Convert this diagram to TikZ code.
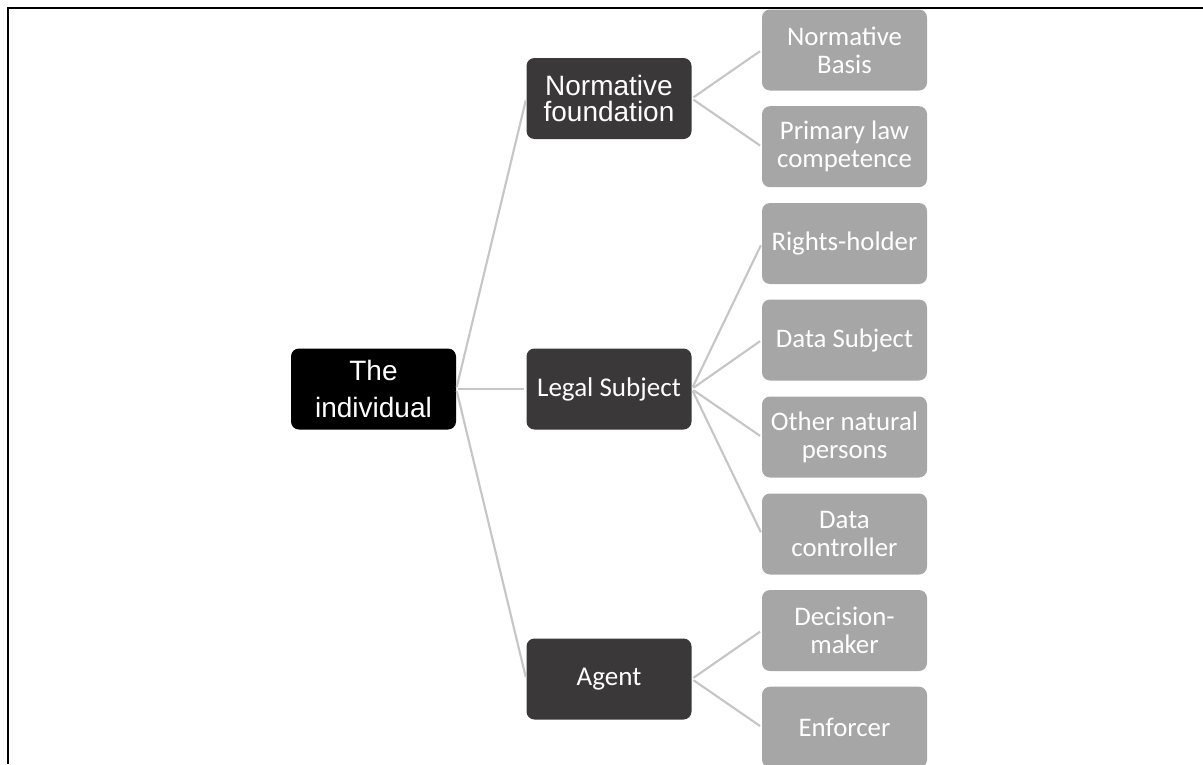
\documentclass[tikz,border=0pt]{standalone}
\usepackage{fontspec}
\setmainfont{Carlito}
\newfontfamily\arialfont{Liberation Sans}

\definecolor{midgrey}{HTML}{3A3838}
\definecolor{leafgrey}{HTML}{A6A6A6}
\definecolor{linkgrey}{HTML}{C6C6C6}

\tikzset{
    box/.style={rounded corners=6pt, minimum width=123.75pt, minimum height=60.75pt,
        inner sep=2pt, align=center, text=white},
    rootbox/.style={box, fill=black, font=\arialfont\fontsize{21}{27.5}\selectfont},
    midbox/.style={box, fill=midgrey, font=\fontsize{20.3}{21}\selectfont},
    leafbox/.style={box, fill=leafgrey, font=\fontsize{20.1}{21}\selectfont},
    link/.style={draw=linkgrey, line width=1.6pt, shorten <=1.5pt, shorten >=1.5pt}
}

\begin{document}
\begin{tikzpicture}[x=0.75pt, y=-0.75pt]
        \clip (0, 0) rectangle (1203, 764);
        \draw[line width=1.7pt] (7.7, 764) -- (7.7, 7.7) -- (1203, 7.7);
        % root and middle level
        \node[rootbox] (indiv) at (373.5, 389) {The\\individual};
        \node[midbox, font=\arialfont\fontsize{21}{20}\selectfont] (found) at (609, 98.5) {Normative\\foundation};
        \node[midbox] (legal) at (609, 389) {Legal Subject};
        \node[midbox] (agent) at (609, 679) {Agent};
        % leaves
        \node[leafbox] (basis) at (844.5, 50) {Normative\\Basis};
        \node[leafbox] (primary) at (844.5, 146.7) {Primary law\\competence};
        \node[leafbox] (rights) at (844.5, 243.5) {Rights-holder};
        \node[leafbox] (dsubj) at (844.5, 340) {Data Subject};
        \node[leafbox] (others) at (844.5, 437) {Other natural\\persons};
        \node[leafbox] (dctrl) at (844.5, 534) {Data\\controller};
        \node[leafbox] (decide) at (844.5, 630.5) {Decision-\\maker};
        \node[leafbox] (enforce) at (844.5, 727.2) {Enforcer};
        % connectors
        \draw[link] (indiv.east) -- (found.west);
        \draw[link] (indiv.east) -- (legal.west);
        \draw[link] (indiv.east) -- (agent.west);
        \draw[link] (found.east) -- (basis.west);
        \draw[link] (found.east) -- (primary.west);
        \draw[link] (legal.east) -- (rights.west);
        \draw[link] (legal.east) -- (dsubj.west);
        \draw[link] (legal.east) -- (others.west);
        \draw[link] (legal.east) -- (dctrl.west);
        \draw[link] (agent.east) -- (decide.west);
        \draw[link] (agent.east) -- (enforce.west);
    \end{tikzpicture}
\end{document}
